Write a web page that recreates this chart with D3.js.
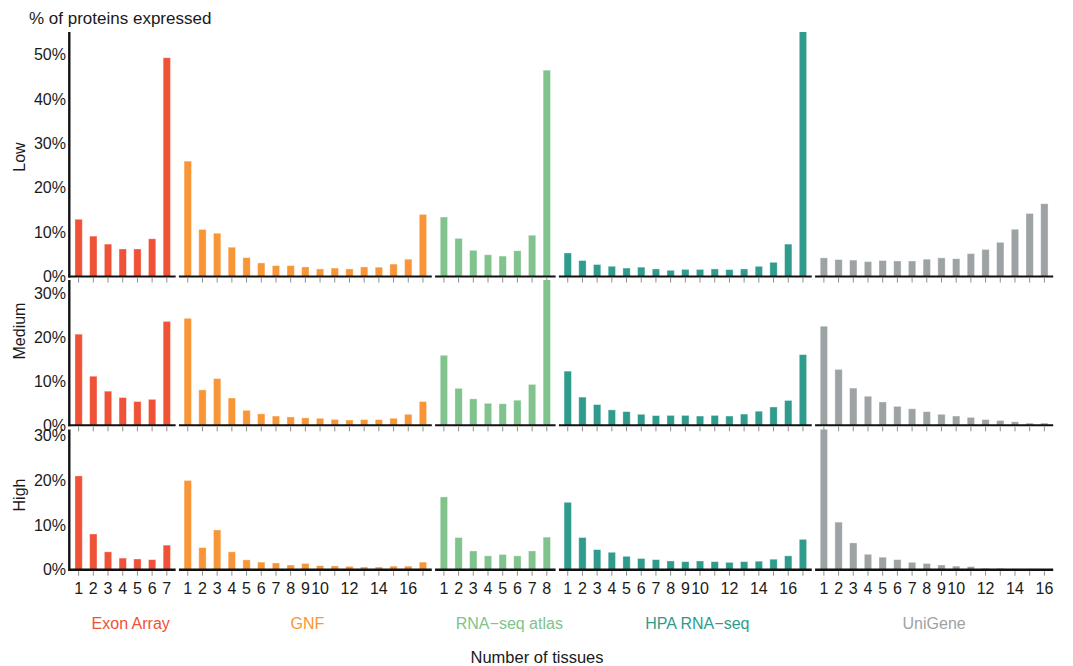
<!DOCTYPE html>
<html>
<head>
<meta charset="utf-8">
<script src="https://cdn.jsdelivr.net/npm/d3@7"></script>
<style>
  html, body { margin: 0; padding: 0; background: #fff; }
  svg { display: block; font-family: "Liberation Sans", Arial, sans-serif; }
</style>
</head>
<body>
<div id="chart"></div>
<script>
// datasets (facet columns) and expression levels (facet rows)
const datasets = ['Exon Array', 'GNF', 'RNA−seq atlas', 'HPA RNA−seq', 'UniGene'];
const colors = ['#f05237', '#f89637', '#80c38d', '#2f9b8d', '#9da2a4'];
const levels = ['Low', 'Medium', 'High'];

// x tick labels shown on the bottom row (blank = tick only)
const exonTicks = ['1', '2', '3', '4', '5', '6', '7'];
const gnfTicks = ['1', '2', '3', '4', '5', '6', '7', '8', '9', '10', '', '12', '', '14', '', '16', ''];
const rnaTicks = ['1', '2', '3', '4', '5', '6', '7', '8'];
const hpaTicks = ['1', '2', '3', '4', '5', '6', '7', '8', '9', '10', '', '12', '', '14', '', '16', ''];
const uniTicks = ['1', '2', '3', '4', '5', '6', '7', '8', '9', '10', '', '12', '', '14', '', '16'];

// % of proteins expressed, by number of tissues
const lowExon = [12.9, 9.1, 7.3, 6.2, 6.2, 8.5, 49.3];
const lowGNF = [26.0, 10.6, 9.75, 6.6, 4.25, 3.05, 2.45, 2.45, 2.15, 1.7, 1.9, 1.7, 2.15, 2.1, 2.8, 3.9, 14.0];
const lowRNA = [13.4, 8.6, 5.9, 4.9, 4.6, 5.8, 9.3, 46.5];
const lowHPA = [5.3, 3.6, 2.7, 2.3, 1.9, 2.1, 1.7, 1.4, 1.6, 1.6, 1.7, 1.55, 1.7, 2.3, 3.2, 7.3, 57];
const lowUni = [4.2, 3.8, 3.7, 3.35, 3.6, 3.5, 3.5, 3.9, 4.2, 4.0, 5.15, 6.1, 7.7, 10.65, 14.2, 16.4];

const medExon = [20.7, 11.15, 7.75, 6.3, 5.4, 5.9, 23.6];
const medGNF = [24.3, 8.05, 10.6, 6.2, 3.4, 2.6, 2.1, 1.9, 1.7, 1.6, 1.35, 1.2, 1.3, 1.3, 1.6, 2.5, 5.4];
const medRNA = [15.9, 8.4, 6.0, 5.0, 4.9, 5.7, 9.3, 34];
const medHPA = [12.3, 6.4, 4.7, 3.5, 3.1, 2.5, 2.2, 2.25, 2.25, 2.1, 2.25, 2.1, 2.55, 3.2, 4.15, 5.65, 16.05];
const medUni = [22.5, 12.7, 8.45, 6.6, 5.3, 4.3, 3.75, 3.1, 2.5, 2.1, 1.8, 1.3, 1.1, 0.8, 0.5, 0.5];

const highExon = [21.0, 8.0, 4.0, 2.6, 2.4, 2.25, 5.5];
const highGNF = [20.0, 4.95, 8.9, 4.0, 2.2, 1.7, 1.5, 1.05, 1.4, 0.9, 0.85, 0.75, 0.6, 0.6, 0.8, 0.8, 1.7];
const highRNA = [16.3, 7.2, 4.2, 3.1, 3.4, 3.1, 4.2, 7.3];
const highHPA = [15.1, 7.2, 4.5, 3.9, 3.0, 2.5, 2.25, 1.95, 1.8, 1.95, 1.8, 1.65, 1.8, 1.9, 2.35, 3.1, 6.8];
const highUni = [33, 10.65, 6.0, 3.45, 2.8, 2.25, 1.65, 1.4, 1.05, 0.8, 0.7, 0.3, 0.3, 0.2, 0.2, 0.1];

const yTicksLow = [0, 10, 20, 30, 40, 50];
const yTicksMed = [0, 10, 20, 30];
const yTicksHigh = [0, 10, 20, 30];

const tickLabels = [exonTicks, gnfTicks, rnaTicks, hpaTicks, uniTicks];
const values = [
  [lowExon, lowGNF, lowRNA, lowHPA, lowUni],
  [medExon, medGNF, medRNA, medHPA, medUni],
  [highExon, highGNF, highRNA, highHPA, highUni]
];
const yTicks = [yTicksLow, yTicksMed, yTicksHigh];

// layout
const width = 1073, height = 666;
const rows = [
  { top: 32, base: 276.5, max: 55.1, labelY: 157 },
  { top: 280, base: 425.3, max: 33.0, labelY: 331 },
  { top: 429.5, base: 569.7, max: 31.4, labelY: 495 }
];
const x0 = 69.8, unit = 14.7, gap = 3.3;
const labelShift = [8, 2, 14, 12, 0];

const svg = d3.select('#chart').append('svg')
  .attr('width', width)
  .attr('height', height);

// panel x scales
let left = x0;
const panels = datasets.map((name, i) => {
  const n = tickLabels[i].length;
  const w = (n + 0.2) * unit;
  const x = d3.scaleBand()
    .domain(d3.range(1, n + 1))
    .range([left, left + w])
    .paddingInner(0.5)
    .paddingOuter(0.35);
  const p = { name, x, left, right: left + w, color: colors[i] };
  left += w + gap;
  return p;
});

rows.forEach((row, r) => {
  const y = d3.scaleLinear().domain([0, row.max]).range([row.base, row.top]);

  svg.append('clipPath').attr('id', 'clip' + r)
    .append('rect')
    .attr('x', 0).attr('y', row.top)
    .attr('width', width).attr('height', row.base - row.top + 1);

  panels.forEach((p, i) => {
    const data = values[r][i].map((v, k) => ({ k: k + 1, v }));

    // ticks under baseline
    const axis = d3.axisBottom(p.x)
      .tickSize(4.5)
      .tickPadding(6.5)
      .tickFormat(r === rows.length - 1 ? (d => tickLabels[i][d - 1]) : '');
    const ax = svg.append('g')
      .attr('transform', `translate(0,${row.base + 1.5})`)
      .call(axis);
    ax.select('.domain').remove();
    ax.selectAll('.tick line').attr('stroke', '#8c8c8c').attr('stroke-width', 1);
    ax.selectAll('.tick text')
      .attr('font-size', 16)
      .attr('fill', '#1a1a1a')
      .attr('font-family', '"Liberation Sans", Arial, sans-serif');

    // bars
    svg.append('g')
      .attr('clip-path', `url(#clip${r})`)
      .selectAll('rect')
      .data(data)
      .join('rect')
      .attr('x', d => p.x(d.k))
      .attr('width', p.x.bandwidth())
      .attr('y', d => y(d.v))
      .attr('height', d => y(0) - y(d.v))
      .attr('fill', p.color)
      .attr('stroke', '#ffffff')
      .attr('stroke-opacity', 0.45)
      .attr('stroke-width', 0.8);

    // baseline
    svg.append('line')
      .attr('x1', p.left - (i === 0 ? 1.5 : 0)).attr('x2', p.right)
      .attr('y1', row.base).attr('y2', row.base)
      .attr('stroke', '#111')
      .attr('stroke-width', r === rows.length - 1 ? 2.6 : 2);
  });

  // y axis line and labels
  svg.append('line')
    .attr('x1', 69.3).attr('x2', 69.3)
    .attr('y1', row.top).attr('y2', row.base + 1)
    .attr('stroke', '#111')
    .attr('stroke-width', 2.4);

  svg.append('g')
    .selectAll('text')
    .data(yTicks[r])
    .join('text')
    .attr('x', 66)
    .attr('y', d => y(d))
    .attr('dy', '0.35em')
    .attr('text-anchor', 'end')
    .attr('font-size', 16)
    .attr('fill', '#1a1a1a')
    .text(d => d + '%');

  svg.append('text')
    .attr('transform', `translate(25,${row.labelY}) rotate(-90)`)
    .attr('text-anchor', 'middle')
    .attr('font-size', 16)
    .attr('fill', '#1a1a1a')
    .text(levels[r]);
});

// dataset names
svg.append('g')
  .selectAll('text')
  .data(panels)
  .join('text')
  .attr('x', (p, i) => (p.left + p.right) / 2 + labelShift[i])
  .attr('y', 623.5)
  .attr('dy', '0.35em')
  .attr('text-anchor', 'middle')
  .attr('font-size', 16)
  .attr('fill', p => p.color)
  .text(p => p.name);

svg.append('text')
  .attr('x', 29)
  .attr('y', 18)
  .attr('dy', '0.35em')
  .attr('font-size', 17)
  .attr('fill', '#1a1a1a')
  .text('% of proteins expressed');

svg.append('text')
  .attr('x', 537)
  .attr('y', 657)
  .attr('dy', '0.35em')
  .attr('text-anchor', 'middle')
  .attr('font-size', 16.5)
  .attr('fill', '#1a1a1a')
  .text('Number of tissues');
</script>
</body>
</html>
